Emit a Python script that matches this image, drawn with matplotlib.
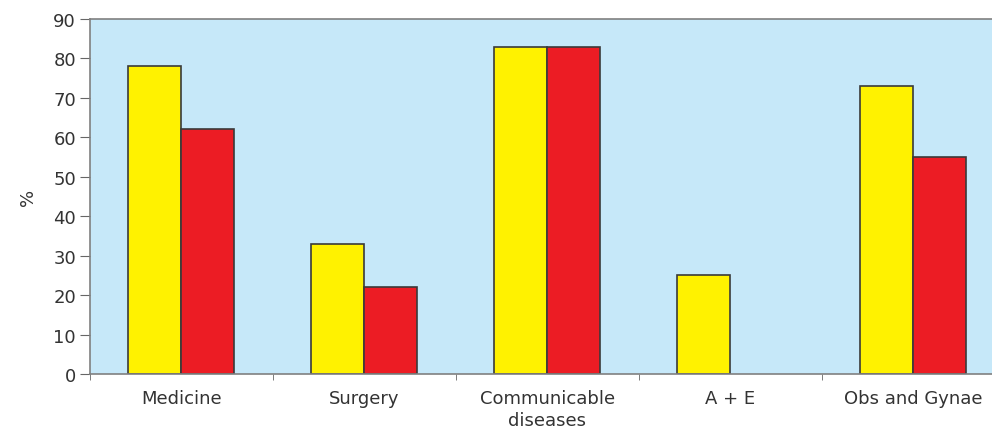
import matplotlib
matplotlib.use("Agg")
import matplotlib.pyplot as plt
import numpy as np

plt.rcParams['font.family'] = ['DejaVu Sans']

categories = ["Medicine", "Surgery", "Communicable\ndiseases", "A + E", "Obs and Gynae"]
series_yellow = [78, 33, 83, 25, 73]
series_red = [62, 22, 83, 0, 55]
y_ticks = [0, 10, 20, 30, 40, 50, 60, 70, 80, 90]

fig = plt.figure(figsize=(9.92, 4.35), dpi=100)
ax = fig.add_axes([90 / 992, 60 / 435, 914.5 / 992, 355 / 435])
ax.set_facecolor("#c6e8f9")

x = np.arange(len(categories))
w = 0.29


def draw_series(values, offset, color):
    vals = np.array(values, dtype=float)
    # zero-valued bars leave no visible mark
    lw = [1.2 if v > 0 else 0 for v in vals]
    ax.bar(x + offset, vals, width=w, color=color, edgecolor="#3a3a3a", linewidth=lw)


draw_series(series_yellow, -w / 2, "#fff200")
draw_series(series_red, w / 2, "#ec1c24")

ax.set_xlim(-0.5, len(categories) - 0.5)
ax.set_ylim(0, 90)
ax.set_yticks(y_ticks)
ax.set_xticks(x)
ax.set_xticklabels(categories, fontsize=13, color="#333333", linespacing=1.25)
ax.tick_params(axis='x', length=0, pad=11)
ax.set_xticks(np.arange(len(categories) + 1) - 0.5, minor=True)
ax.tick_params(axis='x', which='minor', length=4, color="#666666", direction='out')
ax.tick_params(axis='y', length=7, color="#666666", labelsize=13, labelcolor="#333333", pad=3)

for side in ["left", "bottom", "top", "right"]:
    ax.spines[side].set_color("#808080")
    ax.spines[side].set_linewidth(1.2)

ax.set_ylabel("%", fontsize=13, color="#333333", labelpad=12)

fig.savefig("out.png", dpi=100)
